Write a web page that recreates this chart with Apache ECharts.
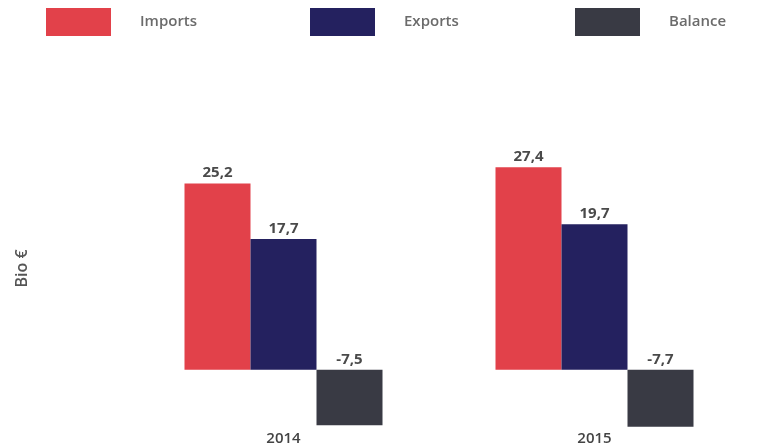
<!DOCTYPE html>
<html>
<head>
<meta charset="utf-8">
<script src="https://cdn.jsdelivr.net/npm/echarts@6/dist/echarts.min.js"></script>
<style>
  html, body { margin: 0; padding: 0; background: #fff; }
  #chart { width: 759px; height: 448px; }
</style>
</head>
<body>
<div id="chart"></div>
<script>
// data
const years = ['2014', '2015']
const imports = [25.2, 27.4]
const exports = [17.7, 19.7]
const balance = [-7.5, -7.7]

const colors = ['#e2414a', '#24215f', '#393a44']
const font = '"Open Sans", "DejaVu Sans", sans-serif'

const chart = echarts.init(document.getElementById('chart'))

// one legend per item so each sits where the original has it
const legendItem = (name, left) => ({
  data: [name],
  left: left,
  top: 8,
  padding: 0,
  itemWidth: 65,
  itemHeight: 28,
  itemGap: 0,
  icon: 'rect',
  textStyle: {
    fontFamily: font,
    fontSize: 15,
    fontWeight: 600,
    color: '#6b6b6b',
    padding: [0, 0, 0, 24]
  }
})

const labelOpt = {
  show: true,
  position: 'top',
  distance: 3,
  fontFamily: font,
  fontSize: 15,
  fontWeight: 'bold',
  color: '#4a4a4a',
  formatter: p => String(p.value).replace('.', ',')
}

const option = {
  animation: false,
  color: colors,
  legend: [
    legendItem('Imports', 46),
    legendItem('Exports', 310),
    legendItem('Balance', 575)
  ],
  grid: {
    left: 128,
    right: 9,
    top: 148,
    bottom: 19,
    containLabel: false
  },
  xAxis: {
    type: 'category',
    data: years,
    axisLine: { show: false },
    axisTick: { show: false },
    axisLabel: {
      margin: 2,
      fontFamily: font,
      fontSize: 15,
      fontWeight: 600,
      color: '#444'
    }
  },
  yAxis: {
    type: 'value',
    min: -8,
    max: 30,
    name: 'Bio €',
    nameLocation: 'middle',
    nameGap: 98,
    nameTextStyle: {
      fontFamily: font,
      fontSize: 16,
      fontWeight: 600,
      color: '#555',
      padding: [0, 0, 0, 40]
    },
    axisLine: { show: false },
    axisTick: { show: false },
    axisLabel: { show: false },
    splitLine: { show: false }
  },
  series: [
    { name: 'Imports', type: 'bar', data: imports, barWidth: 66, barGap: '0%', label: labelOpt },
    { name: 'Exports', type: 'bar', data: exports, barWidth: 66, barGap: '0%', label: labelOpt },
    { name: 'Balance', type: 'bar', data: balance, barWidth: 66, barGap: '0%', label: labelOpt }
  ]
}

chart.setOption(option)
</script>
</body>
</html>
